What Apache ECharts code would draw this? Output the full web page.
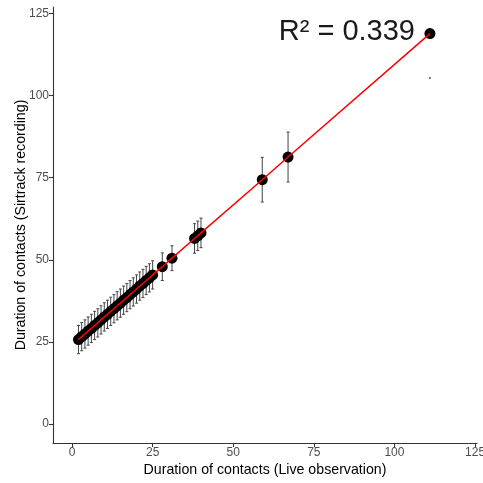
<!DOCTYPE html>
<html>
<head>
<meta charset="utf-8">
<script src="https://cdn.jsdelivr.net/npm/echarts@6/dist/echarts.min.js"></script>
<style>
html,body{margin:0;padding:0;background:#fff;}
#c{width:483px;height:483px;}
</style>
</head>
<body>
<div id="c"></div>
<script>
// Live observation durations (x)
const xValues = [2,3,4,5,6,7,8,9,10,11,12,13,14,15,16,17,18,19,20,21,22,23,24,25,28,31,38,39,40,59,67,111];
// Sirtrack recording durations (y)
const yValues = [25.7,26.6,27.4,28.3,29.1,30.0,30.8,31.7,32.6,33.4,34.3,35.1,36.0,36.8,37.7,38.5,39.4,40.2,41.1,42.0,42.8,43.7,44.5,45.4,47.9,50.5,56.5,57.3,58.2,74.4,81.3,118.9];
// error half-widths
const errValues = [4.3,4.3,4.3,4.3,4.3,4.3,4.3,4.3,4.3,4.3,4.3,4.3,4.3,4.3,4.3,4.3,4.3,4.3,4.3,4.3,4.3,4.3,4.3,4.3,4.2,3.8,4.5,4.5,4.5,6.8,7.6,0];
// stray mark below the last point
const strayPoint = [[111, 105.4]];
const tickValues = [0,25,50,75,100,125];
const annotation = 'R\u00b2 = 0.339';

const pts = xValues.map((x,i)=>[x, yValues[i]]);
const errData = [];
xValues.forEach((x,i)=>{ if (errValues[i] > 0) errData.push([x, yValues[i]-errValues[i], yValues[i]+errValues[i]]); });

const FONT = '"Liberation Sans", Arial, sans-serif';
const chart = echarts.init(document.getElementById('c'), null, {renderer:'canvas'});

const axisCommon = {
  type:'value',
  splitLine:{show:false},
  axisLine:{show:true, onZero:false, lineStyle:{color:'#333333', width:1.1}},
  axisTick:{show:true, length:4, customValues:tickValues, lineStyle:{color:'#333333', width:1.1}},
  axisLabel:{color:'#4D4D4D', fontSize:12, fontFamily:FONT, margin:4, customValues:tickValues, formatter:v=>String(v), hideOverlap:false},
  nameLocation:'middle',
  nameMoveOverlap:false,
  nameTextStyle:{color:'#000000', fontSize:14.2, fontFamily:FONT}
};

chart.setOption({
  animation:false,
  backgroundColor:'#ffffff',
  grid:{left:53, top:7, width:424, height:436, containLabel:false, outerBoundsMode:'none'},
  xAxis: Object.assign({}, axisCommon, {min:-5.9, max:125.6, name:'Duration of contacts (Live observation)', nameGap:20}),
  yAxis: Object.assign({}, axisCommon, {min:-5.8, max:127, name:'Duration of contacts (Sirtrack recording)', nameGap:25}),
  series:[
    {
      type:'custom',
      data:errData,
      z:2,
      renderItem:function(params, api){
        const x = api.value(0);
        const lo = api.coord([x, api.value(1)]);
        const hi = api.coord([x, api.value(2)]);
        const hw = 1.5;
        const st = {stroke:'#444444', lineWidth:1};
        return {type:'group', children:[
          {type:'line', shape:{x1:lo[0], y1:lo[1], x2:hi[0], y2:hi[1]}, style:st},
          {type:'line', shape:{x1:lo[0]-hw, y1:lo[1], x2:lo[0]+hw, y2:lo[1]}, style:st},
          {type:'line', shape:{x1:hi[0]-hw, y1:hi[1], x2:hi[0]+hw, y2:hi[1]}, style:st}
        ]};
      }
    },
    {
      type:'scatter', data:pts, symbol:'circle', symbolSize:11, z:3,
      itemStyle:{color:'#000000', opacity:1}
    },
    {
      type:'scatter', data:strayPoint, symbol:'circle', symbolSize:2, z:3,
      itemStyle:{color:'#555555', opacity:1}
    },
    {
      type:'line', data:pts, symbol:'none', z:4,
      lineStyle:{color:'#FF0000', width:1.5}
    }
  ],
  graphic:[
    {type:'text', right:68, top:17, z:10,
     style:{text:annotation, fill:'#1a1a1a', font:'29px "Liberation Sans", Arial, sans-serif'}}
  ]
});
</script>
</body>
</html>
